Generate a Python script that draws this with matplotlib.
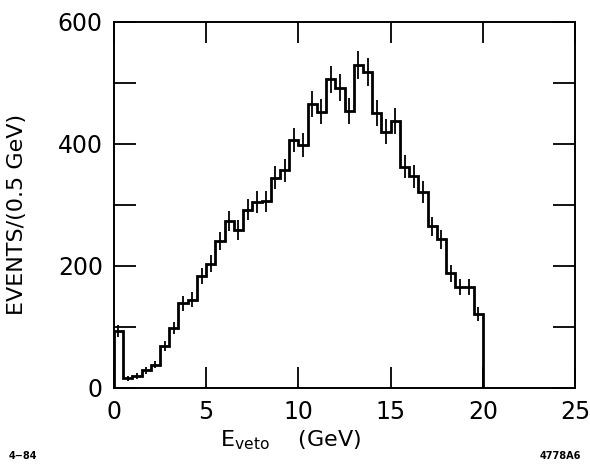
import numpy as np
import matplotlib
matplotlib.use("Agg")
import matplotlib.pyplot as plt
from matplotlib.ticker import MultipleLocator

# histogram of E_veto, 0.5 GeV bins from 0 to 20 GeV
bin_edges = np.arange(0, 20.01, 0.5)
counts = [94, 16, 20, 29, 38, 69, 98, 139, 145, 184,
          204, 241, 274, 259, 292, 305, 306, 345, 357, 407,
          398, 466, 453, 506, 492, 454, 529, 518, 451, 420,
          438, 363, 347, 322, 265, 244, 188, 166, 166, 121]
errors = [10, 4, 4.5, 5.5, 6, 8.5, 10, 12, 12, 13.5,
          14, 15.5, 16.5, 16, 17, 17.5, 17.5, 18.5, 19, 20,
          20, 21.5, 21, 22.5, 22, 21, 23, 23, 21, 20.5,
          21, 19, 18.5, 18, 16, 15.5, 13.5, 13, 13, 11]
x_ticks = [0, 5, 10, 15, 20, 25]
y_ticks = [0, 200, 400, 600]

plt.rcParams['font.family'] = ['DejaVu Sans']

fig = plt.figure(figsize=(5.9, 4.68), dpi=100)
ax = fig.add_axes([0.193, 0.171, 0.782, 0.782])

centers = 0.5 * (bin_edges[:-1] + bin_edges[1:])
ax.stairs(counts, bin_edges, baseline=0, color='black', linewidth=2.0)
ax.errorbar(centers, counts, yerr=errors, fmt='none', ecolor='black',
            elinewidth=1.3, capsize=0)

ax.set_xlim(0, 25)
ax.set_ylim(0, 600)
ax.set_xticks(x_ticks)
ax.set_yticks(y_ticks)
ax.yaxis.set_minor_locator(MultipleLocator(100))
ax.tick_params(which='both', direction='in', top=True, right=True,
               width=1.3, labelsize=17)
ax.tick_params(axis='x', which='major', length=15, pad=9)
ax.tick_params(axis='y', which='both', length=16, pad=8)
for s in ax.spines.values():
    s.set_linewidth(1.4)

ax.set_ylabel('EVENTS/(0.5 GeV)', fontsize=16)
ax.yaxis.set_label_coords(-0.189, 0.473)
ax.set_xlabel(r'E$_{\mathregular{veto}}$    (GeV)', fontsize=16)
ax.xaxis.set_label_coords(0.384, -0.11)

fig.text(0.014, 0.02, '4\u221284', fontsize=7, fontweight='bold')
fig.text(0.915, 0.02, '4778A6', fontsize=7, fontweight='bold')

fig.savefig('out.png', dpi=100)
